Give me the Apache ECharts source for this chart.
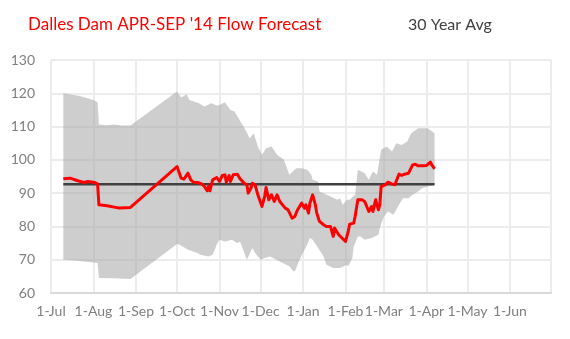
<!DOCTYPE html>
<html>
<head>
<meta charset="utf-8">
<script src="https://cdn.jsdelivr.net/npm/echarts@6/dist/echarts.min.js"></script>
<style>html,body{margin:0;padding:0;background:#fff}#c{width:570px;height:339px}</style>
</head>
<body>
<div id="c"></div>
<script>
// x values are days counted from 1-Jul (2013)
var monthDays = [0, 31, 62, 92, 123, 153, 184, 215, 243, 274, 304, 335];
var monthLabels = ['1-Jul','1-Aug','1-Sep','1-Oct','1-Nov','1-Dec','1-Jan','1-Feb','1-Mar','1-Apr','1-May','1-Jun'];
var axisEndDay = 365;

var forecastDays = [9,14,19,24,27,32,34,35,41,50,58,92,95,97,100,102,104,107,110,112,114,115,116,118,121,123,125,127,128,130,131,133,136,138,141,143,144,146,147,149,151,154,156,157,159,161,163,165,167,168,171,173,176,178,180,183,185,186,188,189,191,193,194,196,199,201,204,205,206,207,210,213,215,217,218,221,222,224,227,229,232,234,235,237,239,240,241,244,246,249,251,254,256,258,261,264,266,268,272,274,277,278,280];
var forecastValues = [94.3,94.5,93.8,93.2,93.5,93.2,92.8,86.5,86.2,85.5,85.7,98.0,94.5,94.2,96.0,94.0,93.3,93.2,92.8,92.0,90.7,92.0,90.7,94.0,94.7,93.5,95.3,95.5,93.3,95.3,93.5,95.5,95.7,94.3,93.0,92.5,90.0,91.5,93.0,92.5,89.5,86.0,89.0,91.7,88.0,89.5,87.5,89.5,87.5,88.0,85.5,85.0,82.5,83.0,85.0,87.0,85.5,86.5,84.0,87.0,89.5,86.5,84.0,81.5,80.5,80.0,80.0,79.5,77.0,79.5,77.5,76.3,75.5,78.5,80.7,81.0,83.0,88.0,88.0,87.5,84.5,86.0,84.5,88.0,85.0,86.5,92.0,92.5,93.3,92.7,92.5,95.7,95.3,95.7,96.0,98.5,98.7,98.2,98.2,98.3,99.3,98.5,97.3];

var avgDays = [9, 280];
var avgValues = [92.7, 92.7];

var bandHighDays = [9,21,31,33,34,35,40,46,52,58,92,95,99,101,108,112,117,121,123,127,131,134,139,142,145,148,151,154,157,161,165,170,174,179,183,187,190,191,195,196,199,204,209,211,213,216,218,222,224,229,232,235,238,241,245,249,252,256,260,263,268,272,275,280];
var bandHighValues = [120,119.2,118,117.5,117.3,110.6,110.4,110.6,110.3,110.3,120.5,118.7,119.7,118,117,116,117,116.3,116.5,117.3,115,114.5,111,109,106.5,108,104,101.5,103.5,104,101.5,100,95.5,97.5,97.5,97,95.5,94,93.5,90.5,90,89,88,88.5,86.5,88,88,89.5,97,96,94,96.5,95.5,103,104,102.5,105,104.5,105.5,108,109.5,109.5,109.5,108];

var bandLowDays = [9,19,31,34,35,45,58,92,94,100,107,109,115,118,121,123,127,132,136,138,143,147,149,153,156,160,167,174,177,178,182,187,189,191,195,199,201,206,211,216,217,220,221,224,226,229,234,239,240,243,246,250,254,257,261,264,268,271,275,280];
var bandLowValues = [70,69.7,69.2,69,64.5,64.4,64.2,74.7,74.5,73,72,71.5,71,71.5,74.5,76,75.5,76,75,75.5,70,73.5,72,70,70.5,71,69.5,68,66.5,66.5,70.5,74.5,76.5,76,73.5,71,68.5,67.5,67.5,68.5,68,70.5,74,77,77,76,76.5,77.5,79.5,83,84.5,83.5,86.5,88.5,88.5,89.5,90.5,91.5,92,92.5];

function pairs(xs, ys) { return xs.map(function (x, i) { return [x, ys[i]]; }); }

var labelMap = {};
monthDays.forEach(function (d, i) { labelMap[d] = monthLabels[i]; });

var chart = echarts.init(document.getElementById('c'), null, { renderer: 'canvas' });
var font = 'Lato, "Open Sans", sans-serif';
chart.setOption({
  animation: false,
  backgroundColor: '#ffffff',
  title: [
    { text: "Dalles Dam APR-SEP '14 Flow Forecast", left: 23, top: 11,
      textStyle: { color: '#ff0000', fontFamily: font, fontSize: 17, fontWeight: 'normal' } },
    { text: '30 Year Avg', left: 403, top: 12,
      textStyle: { color: '#404040', fontFamily: font, fontSize: 16, fontWeight: 'normal' } }
  ],
  grid: { left: 51, right: 19, top: 60, bottom: 46, containLabel: false },
  xAxis: {
    type: 'value', min: 0, max: axisEndDay,
    axisLine: { show: true, lineStyle: { color: '#d9d9d9', width: 2 } },
    axisTick: { show: false, customValues: monthDays.concat([axisEndDay]) },
    axisLabel: { customValues: monthDays, color: '#7f7f7f', fontFamily: font, fontSize: 14, margin: 11,
      formatter: function (v) { return labelMap[v] || ''; } },
    splitLine: { show: true, lineStyle: { color: '#ececec', width: 2 } }
  },
  yAxis: {
    type: 'value', min: 60, max: 130, interval: 10,
    axisLine: { show: false }, axisTick: { show: false },
    axisLabel: { color: '#7f7f7f', fontFamily: font, fontSize: 14, margin: 16 },
    splitLine: { show: true, lineStyle: { color: '#ececec', width: 2 } }
  },
  series: [
    {
      name: 'Range', type: 'custom', silent: true, z: 1,
      data: pairs(bandHighDays, bandHighValues),
      renderItem: function (params, api) {
        if (params.dataIndex !== 0) return null;
        var pts = [];
        for (var i = 0; i < bandHighDays.length; i++) pts.push(api.coord([bandHighDays[i], bandHighValues[i]]));
        for (var j = bandLowDays.length - 1; j >= 0; j--) pts.push(api.coord([bandLowDays[j], bandLowValues[j]]));
        return { type: 'polygon', shape: { points: pts }, style: { fill: 'rgba(165,165,165,0.55)', stroke: null } };
      }
    },
    {
      name: '30 Year Avg', type: 'line', z: 3, data: pairs(avgDays, avgValues),
      showSymbol: false, lineStyle: { color: '#404040', width: 2.5 }
    },
    {
      name: 'Forecast', type: 'line', z: 4, data: pairs(forecastDays, forecastValues),
      showSymbol: false, lineStyle: { color: '#ff0000', width: 3, join: 'round' }
    }
  ]
});
</script>
</body>
</html>
